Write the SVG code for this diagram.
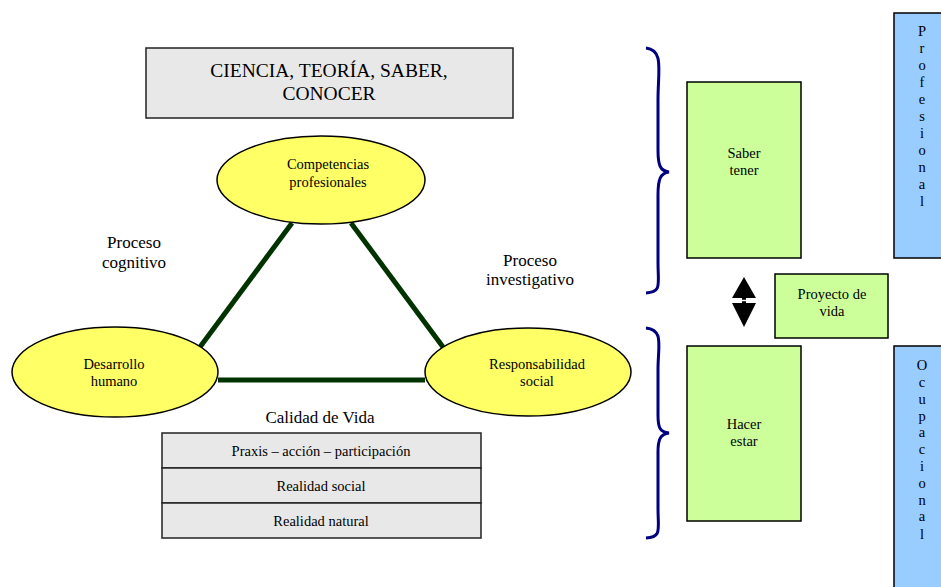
<svg xmlns="http://www.w3.org/2000/svg" width="941" height="587" viewBox="0 0 941 587">
<style>
text{font-family:'Liberation Serif','DejaVu Serif',serif;fill:#000;text-anchor:middle}
.box{fill:#e8e8e8;stroke:#222;stroke-width:1.5}
.ell{fill:#ffff66;stroke:#000;stroke-width:1.5}
.grn{fill:#ccff99;stroke:#000;stroke-width:1.5}
.blu{fill:#99ccff;stroke:#000;stroke-width:1.5}
.ln{stroke:#003300;stroke-width:5;fill:none}
.br{stroke:#000080;stroke-width:3;fill:none}
.s13{font-size:14.5px}
.s15{font-size:17px}
</style>
<rect width="941" height="587" fill="#fff"/>
<g id="connectors">
<line class="ln" x1="292" y1="223" x2="200" y2="347"/>
<line class="ln" x1="351" y1="223" x2="443" y2="347"/>
<line class="ln" x1="218" y1="380" x2="425" y2="380"/>
<path class="br" d="M646,48 C664,50 658,70 658,100 L658,150 C658,165 660,171 669,172 C660,173 658,180 658,195 L658,262 C658,285 662,292 646,293"/>
<path class="br" d="M646,328 C664,330 658,345 658,370 L658,415 C658,428 660,432 669,433 C660,434 658,440 658,452 L658,508 C658,530 662,537 646,538"/>
<path d="M744,277 L756,298 L746,298 L746,303 L756,303 L744,327 L732,303 L742,303 L742,298 L732,298 Z" fill="#000"/>
<line x1="732" y1="300.5" x2="756" y2="300.5" stroke="#fff" stroke-width="1.5"/>
</g>
<g id="ciencia">
<rect class="box" x="146" y="48" width="367" height="70"/>
<text x="329" y="77" font-size="19.5">CIENCIA, TEORÍA, SABER,</text>
<text x="329" y="100" font-size="19.5">CONOCER</text>
</g>
<g id="competencias">
<ellipse class="ell" cx="321" cy="180" rx="104" ry="44"/>
<text class="s13" x="328" y="169">Competencias</text>
<text class="s13" x="328" y="187">profesionales</text>
</g>
<g id="desarrollo">
<ellipse class="ell" cx="115" cy="372" rx="103" ry="45"/>
<text class="s13" x="114" y="369">Desarrollo</text>
<text class="s13" x="114" y="386">humano</text>
</g>
<g id="responsabilidad">
<ellipse class="ell" cx="528" cy="372" rx="103" ry="44"/>
<text class="s13" x="537" y="369">Responsabilidad</text>
<text class="s13" x="537" y="386">social</text>
</g>
<g id="proceso-cognitivo">
<text class="s15" x="134" y="248">Proceso</text>
<text class="s15" x="134" y="268">cognitivo</text>
</g>
<g id="proceso-investigativo">
<text class="s15" x="530" y="266">Proceso</text>
<text class="s15" x="530" y="285">investigativo</text>
</g>
<g id="calidad">
<text class="s15" x="320" y="423">Calidad de Vida</text>
</g>
<g id="praxis">
<rect class="box" x="162" y="433" width="319" height="35"/>
<text class="s13" x="321" y="456">Praxis – acción – participación</text>
</g>
<g id="realidad-social">
<rect class="box" x="162" y="468" width="319" height="35"/>
<text class="s13" x="321" y="491">Realidad social</text>
</g>
<g id="realidad-natural">
<rect class="box" x="162" y="503" width="319" height="35"/>
<text class="s13" x="321" y="526">Realidad natural</text>
</g>
<g id="saber-tener">
<rect class="grn" x="687" y="82" width="114" height="176"/>
<text class="s13" x="744" y="158">Saber</text>
<text class="s13" x="744" y="175">tener</text>
</g>
<g id="hacer-estar">
<rect class="grn" x="687" y="346" width="114" height="175"/>
<text class="s13" x="744" y="429">Hacer</text>
<text class="s13" x="744" y="446">estar</text>
</g>
<g id="proyecto">
<rect class="grn" x="775" y="274" width="113" height="64"/>
<text class="s13" x="832" y="299">Proyecto de</text>
<text class="s13" x="832" y="316">vida</text>
</g>
<g id="profesional">
<rect class="blu" x="894" y="13" width="50" height="245"/>
<text class="s13" x="922" y="36">P</text>
<text class="s13" x="922" y="53">r</text>
<text class="s13" x="922" y="70">o</text>
<text class="s13" x="922" y="87">f</text>
<text class="s13" x="922" y="104">e</text>
<text class="s13" x="922" y="121">s</text>
<text class="s13" x="922" y="138">i</text>
<text class="s13" x="922" y="155">o</text>
<text class="s13" x="922" y="172">n</text>
<text class="s13" x="922" y="189">a</text>
<text class="s13" x="922" y="206">l</text>
</g>
<g id="ocupacional">
<rect class="blu" x="894" y="346" width="50" height="245"/>
<text class="s13" x="922" y="370">O</text>
<text class="s13" x="922" y="387">c</text>
<text class="s13" x="922" y="404">u</text>
<text class="s13" x="922" y="421">p</text>
<text class="s13" x="922" y="437">a</text>
<text class="s13" x="922" y="454">c</text>
<text class="s13" x="922" y="471">i</text>
<text class="s13" x="922" y="488">o</text>
<text class="s13" x="922" y="505">n</text>
<text class="s13" x="922" y="521">a</text>
<text class="s13" x="922" y="539">l</text>
</g>
</svg>
